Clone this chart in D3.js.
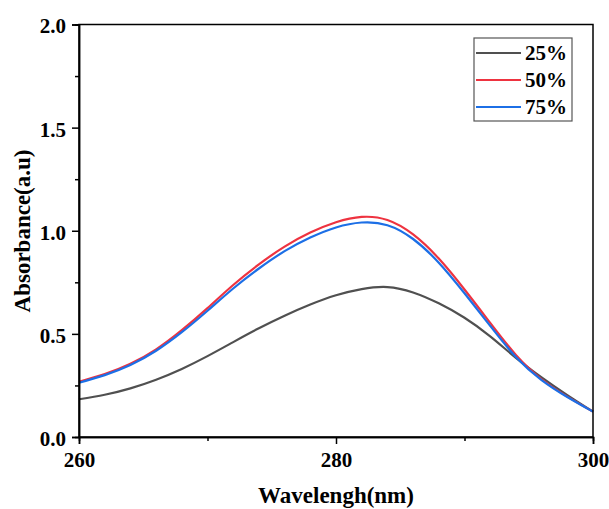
<!DOCTYPE html>
<html><head><meta charset="utf-8">
<script src="https://cdn.jsdelivr.net/npm/d3@7"></script>
<style>body{margin:0;background:#fff}svg{display:block}
text{font-family:"Liberation Serif","Times New Roman",Tinos,"Nimbus Roman","DejaVu Serif",serif !important;font-weight:bold}</style>
</head><body>
<svg id="c" width="609" height="509"></svg>
<script>
const wavelengths = [260,262,264,266,268,270,272,274,276,278,280,282,284,286,288,290,292,294,296,298,300];
const s25 = [0.183,0.205,0.236,0.278,0.330,0.392,0.460,0.527,0.588,0.642,0.687,0.717,0.727,0.701,0.648,0.578,0.488,0.384,0.289,0.203,0.123];
const s50 = [0.268,0.305,0.355,0.425,0.518,0.625,0.737,0.837,0.923,0.991,1.041,1.067,1.052,0.982,0.865,0.715,0.553,0.398,0.280,0.196,0.123];
const s75 = [0.263,0.300,0.349,0.418,0.508,0.612,0.720,0.817,0.901,0.967,1.016,1.040,1.027,0.960,0.845,0.697,0.539,0.388,0.276,0.194,0.123];
const seriesNames = ["25%","50%","75%"];
const colors = ["#505050","#ee3340","#1c6fe6"];
const xTicks = [260,280,300];
const xMinor = [270,290];
const yTicks = [0,0.5,1.0,1.5,2.0];
const yMinor = [0.25,0.75,1.25,1.75];

const svg = d3.select("#c");
const L=79,R=593,T=24.5,B=437;
const x = d3.scaleLinear().domain([260,300]).range([L,R]);
const y = d3.scaleLinear().domain([0,2]).range([B,T]);

const series = [s25,s50,s75];
const line = d3.line().x((d,i)=>x(wavelengths[i])).y(d=>y(d)).curve(d3.curveNatural);
series.forEach((s,k)=>{
  svg.append("path").attr("d",line(s)).attr("fill","none").attr("stroke",colors[k]).attr("stroke-width",2.2);
});

svg.append("rect").attr("x",L).attr("y",T).attr("width",R-L).attr("height",B-T)
  .attr("fill","none").attr("stroke","#000").attr("stroke-width",1.5);

const gx = svg.append("g").attr("transform",`translate(0,${B})`).call(d3.axisBottom(x).tickValues(xTicks).tickSize(7).tickFormat(d3.format("d")));
const gxm = svg.append("g").attr("transform",`translate(0,${B})`).call(d3.axisBottom(x).tickValues(xMinor).tickSize(4).tickFormat(""));
const gy = svg.append("g").attr("transform",`translate(${L},0)`).call(d3.axisLeft(y).tickValues(yTicks).tickSize(7).tickFormat(d3.format(".1f")));
const gym = svg.append("g").attr("transform",`translate(${L},0)`).call(d3.axisLeft(y).tickValues(yMinor).tickSize(4).tickFormat(""));
[gx,gxm,gy,gym].forEach(g=>{
  g.select(".domain").attr("stroke","#000").attr("stroke-width",1.5);
  g.selectAll(".tick line").attr("stroke","#000").attr("stroke-width",1.5);
  g.selectAll("text").attr("font-size",21).attr("fill","#000");
});
gx.selectAll("text").attr("dy",null).attr("y",30);
gy.selectAll("text").attr("x",-13).attr("dy","0.4em");

svg.append("text").attr("x",336).attr("y",503).attr("text-anchor","middle")
  .attr("font-size",23).text("Wavelengh(nm)");
svg.append("text").attr("transform","translate(30,231) rotate(-90)").attr("text-anchor","middle")
  .attr("font-size",23).text("Absorbance(a.u)");

const lg = svg.append("g");
lg.append("rect").attr("x",474).attr("y",38).attr("width",98).attr("height",83)
  .attr("fill","#fff").attr("stroke","#555").attr("stroke-width",1.2);
seriesNames.forEach((n,k)=>{
  const yy = 53 + k*27;
  lg.append("line").attr("x1",476).attr("x2",521).attr("y1",yy).attr("y2",yy).attr("stroke",colors[k]).attr("stroke-width",2.2);
  lg.append("text").attr("x",525).attr("y",yy).attr("dy","0.35em").attr("font-size",21).text(n);
});
</script>
</body></html>
